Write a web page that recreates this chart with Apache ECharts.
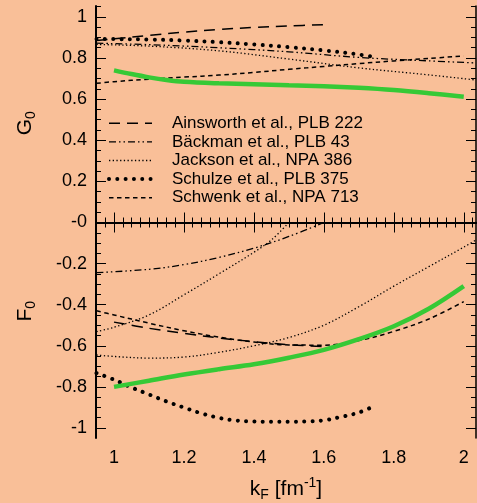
<!DOCTYPE html>
<html>
<head>
<meta charset="utf-8">
<script src="https://cdn.jsdelivr.net/npm/echarts@6/dist/echarts.min.js"></script>
<style>
  html, body { margin: 0; padding: 0; background: #f9bf98; }
  #chart { width: 477px; height: 503px; }
</style>
</head>
<body>
<div id="chart"></div>
<script>
// Landau parameters G0 (upper panel) and F0 (lower panel) versus Fermi momentum kF

// ---- axis ticks and labels ----
const xMajorTicks = [1, 1.2, 1.4, 1.6, 1.8, 2];
const xMajorLabels = ['1', '1.2', '1.4', '1.6', '1.8', '2'];
const gTicks = [0.2, 0.4, 0.6, 0.8, 1];
const gLabels = ['0.2', '0.4', '0.6', '0.8', '1'];
const fTicks = [0, -0.2, -0.4, -0.6, -0.8, -1];
const fLabels = ['-0', '-0.2', '-0.4', '-0.6', '-0.8', '-1'];

// ---- Ainsworth et al., PLB 222 ----
const ainsGk = [0.95, 1.0, 1.1, 1.2, 1.3, 1.4, 1.5, 1.6];
const ainsG  = [0.885, 0.893, 0.91, 0.926, 0.939, 0.949, 0.956, 0.962];
const ainsFk = [1.0, 1.1, 1.2, 1.3, 1.4, 1.5, 1.6];
const ainsF  = [-0.485, -0.515, -0.54, -0.562, -0.58, -0.595, -0.604];

// ---- Bäckman et al., PLB 43 ----
const backGk = [0.95, 1.1, 1.3, 1.5, 1.7, 1.9, 2.035];
const backG  = [0.872, 0.865, 0.85, 0.83, 0.803, 0.786, 0.776];
const backFk = [0.95, 1.1, 1.2, 1.3, 1.4, 1.5, 1.6];
const backF  = [-0.244, -0.228, -0.205, -0.17, -0.125, -0.068, 0.0];

// ---- Jackson et al., NPA 386 ----
const jackGk = [0.95, 1.1, 1.3, 1.5, 1.7, 1.9, 2.035];
const jackG  = [0.866, 0.858, 0.835, 0.795, 0.752, 0.718, 0.693];
const jackFk = [0.95, 1.0, 1.1, 1.2, 1.3, 1.4, 1.45, 1.5];
const jackF  = [-0.531, -0.51, -0.45, -0.352, -0.25, -0.145, -0.085, 0.0];
const jackF2k = [0.95, 1.0, 1.1, 1.2, 1.3, 1.4, 1.5, 1.6, 1.7, 1.8, 1.9, 2.0, 2.035];
const jackF2  = [-0.645, -0.652, -0.66, -0.655, -0.632, -0.6, -0.56, -0.5, -0.41, -0.31, -0.215, -0.12, -0.085];

// ---- Schulze et al., PLB 375 ----
const schuGk = [0.95, 1.0, 1.1, 1.2, 1.3, 1.4, 1.5, 1.6, 1.7, 1.75];
const schuG  = [0.893, 0.892, 0.89, 0.885, 0.877, 0.866, 0.853, 0.837, 0.817, 0.803];
const schuFk = [0.95, 1.0, 1.05, 1.1, 1.15, 1.2, 1.25, 1.3, 1.35, 1.4, 1.45, 1.5, 1.55, 1.6, 1.65, 1.7, 1.745];
const schuF  = [-0.733, -0.765, -0.803, -0.837, -0.871, -0.901, -0.929, -0.951, -0.964, -0.968, -0.97, -0.97, -0.968, -0.963, -0.946, -0.925, -0.893];

// ---- Schwenk et al., NPA 713 ----
const schwGk = [0.95, 1.0, 1.1, 1.2, 1.3, 1.4, 1.5, 1.6, 1.7, 1.8, 1.9, 2.0];
const schwG  = [0.677, 0.685, 0.697, 0.707, 0.717, 0.73, 0.745, 0.759, 0.773, 0.786, 0.798, 0.81];
const schwFk = [0.95, 1.0, 1.1, 1.2, 1.3, 1.4, 1.5, 1.6, 1.7, 1.8, 1.9, 2.0];
const schwF  = [-0.43, -0.45, -0.49, -0.527, -0.558, -0.582, -0.596, -0.597, -0.575, -0.53, -0.47, -0.385];

// ---- present calculation (green) ----
const presGk = [1.0, 1.05, 1.1, 1.15, 1.2, 1.3, 1.4, 1.5, 1.6, 1.7, 1.8, 1.9, 2.0];
const presG  = [0.74, 0.722, 0.706, 0.693, 0.684, 0.677, 0.673, 0.668, 0.663, 0.655, 0.644, 0.629, 0.612];
const presFk = [1.0, 1.1, 1.2, 1.3, 1.4, 1.5, 1.6, 1.7, 1.8, 1.9, 2.0];
const presF  = [-0.80, -0.77, -0.74, -0.714, -0.69, -0.658, -0.62, -0.568, -0.505, -0.42, -0.31];

const NAMES = ['Ainsworth et al., PLB 222', 'Bäckman et al., PLB 43', 'Jackson et al., NPA 386',
               'Schulze et al., PLB 375', 'Schwenk et al., NPA 713'];

const X_MIN = 0.9485, X_MAX = 2.035;
const G_MIN = 0, G_MAX = 1.053;
const F_MIN = -1.049, F_MAX = 0;
const FONT = 'Liberation Sans, Arial, Helvetica, sans-serif';
const BG = '#f9bf98';

function steps(a, b, d) {            // tick positions between a and b every d
  const out = [];
  for (let v = a; v <= b + 1e-9; v += d) out.push(Math.round(v * 1000) / 1000);
  return out;
}
const xMinorTicks = steps(0.975, 2.025, 0.025);
const gMinorTicks = steps(0.05, 1.05, 0.05);
const fMinorTicks = steps(-1.0, -0.05, 0.05);

function pairs(xs, ys) { return xs.map((x, i) => [x, ys[i]]); }
function labelOf(ticks, labels) {
  return v => { const i = ticks.findIndex(t => Math.abs(t - v) < 1e-6); return i < 0 ? '' : labels[i]; };
}

function tickAxis(gridIndex, position, min, max, ticks, len, lineW, extra) {
  return Object.assign({
    type: 'value', gridIndex, position, min, max,
    axisLine: { show: lineW > 0, lineStyle: { color: '#000', width: lineW } },
    axisTick: { show: true, inside: true, length: len, customValues: ticks,
                lineStyle: { color: '#000', width: 1 } },
    axisLabel: { show: false },
    splitLine: { show: false }
  }, extra || {});
}

const labelStyle = { color: '#000', fontFamily: FONT, fontSize: 18 };

const xAxis = [
  tickAxis(0, 'top', X_MIN, X_MAX, xMajorTicks, 10, 1.5),
  tickAxis(0, 'top', X_MIN, X_MAX, xMinorTicks, 5, 0),
  tickAxis(0, 'bottom', X_MIN, X_MAX, [], 0, 1.5, { axisTick: { show: false } }),
  tickAxis(1, 'bottom', X_MIN, X_MAX, xMajorTicks, 10, 2, {
    axisLabel: Object.assign({ show: true, margin: 11, customValues: xMajorTicks,
                               formatter: labelOf(xMajorTicks, xMajorLabels) }, labelStyle),
    name: '{i|k}{s|F}{i| [fm}{p|-1}{i|]}',
    nameLocation: 'middle', nameGap: 38,
    nameTextStyle: { fontFamily: FONT, color: '#000', rich: {
      i: { fontFamily: FONT, fontSize: 21, color: '#000' },
      s: { fontFamily: FONT, fontSize: 14, color: '#000', padding: [12, 0, 0, 0] },
      p: { fontFamily: FONT, fontSize: 14, color: '#000', padding: [0, 0, 12, 0] }
    } }
  }),
  tickAxis(1, 'bottom', X_MIN, X_MAX, xMinorTicks, 5, 0)
];

const yAxis = [
  tickAxis(0, 'left', G_MIN, G_MAX, gTicks, 10, 2, {
    axisLabel: Object.assign({ show: true, margin: 9, customValues: gTicks,
                               formatter: labelOf(gTicks, gLabels) }, labelStyle),
    name: '{i|G}{s|0}', nameLocation: 'middle', nameGap: 58, nameRotate: 90,
    nameTextStyle: { padding: [0, 18, 0, 0], rich: {
      i: { fontFamily: FONT, fontSize: 21, color: '#000' },
      s: { fontFamily: FONT, fontSize: 14, color: '#000', padding: [12, 0, 0, 0] }
    } }
  }),
  tickAxis(0, 'left', G_MIN, G_MAX, gMinorTicks, 5, 0),
  tickAxis(0, 'right', G_MIN, G_MAX, gTicks, 10, 1.5),
  tickAxis(0, 'right', G_MIN, G_MAX, gMinorTicks, 5, 0),
  tickAxis(1, 'left', F_MIN, F_MAX, fTicks, 10, 2, {
    axisLabel: Object.assign({ show: true, margin: 9, customValues: fTicks,
                               formatter: labelOf(fTicks, fLabels) }, labelStyle),
    name: '{i|F}{s|0}', nameLocation: 'middle', nameGap: 58, nameRotate: 90,
    nameTextStyle: { padding: [0, 0, 0, 38], rich: {
      i: { fontFamily: FONT, fontSize: 21, color: '#000' },
      s: { fontFamily: FONT, fontSize: 14, color: '#000', padding: [12, 0, 0, 0] }
    } }
  }),
  tickAxis(1, 'left', F_MIN, F_MAX, fMinorTicks, 5, 0),
  tickAxis(1, 'right', F_MIN, F_MAX, fTicks, 10, 1.5),
  tickAxis(1, 'right', F_MIN, F_MAX, fMinorTicks, 5, 0)
];

const styles = {
  [NAMES[0]]: { color: '#000', width: 1.5, type: [11, 7] },
  [NAMES[1]]: { color: '#000', width: 1.3, type: [7, 3, 1.5, 3, 1.5, 3] },
  [NAMES[2]]: { color: '#000', width: 1.3, type: [1.3, 2.4] },
  [NAMES[3]]: { color: '#000', width: 4, type: [0.01, 8.3], cap: 'round' },
  [NAMES[4]]: { color: '#000', width: 1.5, type: [4.5, 3.5] },
  present:    { color: '#36c936', width: 4.5, type: 'solid' }
};

function curve(name, panel, xs, ys) {
  return {
    type: 'line', name,
    xAxisIndex: panel === 0 ? 0 : 3,
    yAxisIndex: panel === 0 ? 0 : 4,
    data: pairs(xs, ys),
    smooth: 0.35, symbol: 'none', clip: true,
    lineStyle: styles[name], itemStyle: { color: styles[name].color },
    emphasis: { disabled: true }, animation: false
  };
}

const series = [
  curve(NAMES[0], 0, ainsGk, ainsG),
  curve(NAMES[1], 0, backGk, backG),
  curve(NAMES[2], 0, jackGk, jackG),
  curve(NAMES[3], 0, schuGk, schuG),
  curve(NAMES[4], 0, schwGk, schwG),
  curve('present', 0, presGk, presG),
  curve(NAMES[0], 1, ainsFk, ainsF),
  curve(NAMES[1], 1, backFk, backF),
  curve(NAMES[2], 1, jackFk, jackF),
  curve(NAMES[2], 1, jackF2k, jackF2),
  curve(NAMES[3], 1, schuFk, schuF),
  curve(NAMES[4], 1, schwFk, schwF),
  curve('present', 1, presFk, presF)
];

const chart = echarts.init(document.getElementById('chart'), null, { renderer: 'canvas' });
chart.setOption({
  backgroundColor: BG,
  animation: false,
  grid: [
    { left: 96, right: 1, top: 6, height: 216.5 },
    { left: 96, right: 1, top: 222.5, height: 215.5 }
  ],
  legend: {
    // each sample repeats its series' stroke, without the centre marker
    data: NAMES.map(n => ({ name: n, lineStyle: Object.assign({}, styles[n]) })),
    orient: 'vertical', left: 107, top: 114, padding: 0,
    itemWidth: 43, itemHeight: 10, itemGap: 0,
    selectedMode: false,
    itemStyle: { color: 'rgba(0,0,0,0)', borderColor: 'rgba(0,0,0,0)', borderWidth: 0, opacity: 0 },
    textStyle: { fontFamily: FONT, fontSize: 17, color: '#000', lineHeight: 18.6, padding: [0, 0, 0, 15] }
  },
  xAxis, yAxis, series
});
</script>
</body>
</html>
